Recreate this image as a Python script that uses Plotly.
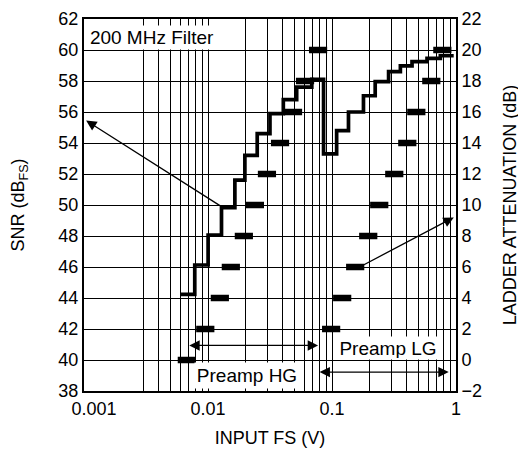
import math
import plotly.graph_objects as go

FONT = 'Liberation Sans, Arial, sans-serif'

# SNR step curve (left axis), HG then LG after the preamp switch
snr_x = [0.0060, 0.00782, 0.01002, 0.01285, 0.01647, 0.01983, 0.02494, 0.0316,
         0.0405, 0.0519, 0.0687, 0.0855, 0.109, 0.1358, 0.1794, 0.223, 0.286,
         0.356, 0.442, 0.584, 0.748, 0.958]
snr_db = [44.24, 46.13, 48.06, 49.83, 51.6, 53.2, 54.6, 55.9, 56.8, 57.6, 58.1,
          53.3, 54.8, 56.0, 57.05, 57.96, 58.6, 58.97, 59.25, 59.46, 59.63, 59.63]

# ladder attenuation settings (right axis)
hg_atten_x = [0.00675, 0.00951, 0.01246, 0.01528, 0.01946, 0.02389, 0.02988,
              0.0381, 0.0485, 0.0606, 0.0772]
hg_atten_db = [0, 2, 4, 6, 8, 10, 12, 14, 16, 18, 20]
lg_atten_x = [0.0984, 0.1208, 0.1538, 0.196, 0.2404, 0.3178, 0.4047, 0.4786,
              0.632, 0.776]
lg_atten_db = [2, 4, 6, 8, 10, 12, 14, 16, 18, 20]

# x grid (no line at 0.002 in the original)
x_grid_vals = [0.001, 0.003, 0.004, 0.005, 0.006, 0.007, 0.008, 0.009,
               0.01, 0.02, 0.03, 0.04, 0.05, 0.06, 0.07, 0.08, 0.09,
               0.1, 0.2, 0.3, 0.4, 0.5, 0.6, 0.7, 0.8, 0.9, 1]
x_grid_text = ['&nbsp;&nbsp;&nbsp;&nbsp;0.001' if v == 0.001 else '0.01' if v == 0.01 else
               '0.1' if v == 0.1 else '1' if v == 1 else '' for v in x_grid_vals]

# pointer arrows: (tail x, tail y) -> (tip x, tip y)
snr_arrow = [0.01283, 49.9, 0.00104, 55.45]
atten_arrow = [0.167, 6, 0.96, 9.2]
hg_range = [0.00687, 0.0772, 40.94]
lg_range = [0.0772, 0.873, 39.22]

fig = go.Figure()

fig.add_trace(go.Scatter(
    x=snr_x, y=snr_db, mode='lines', line_shape='hv',
    line={'color': 'black', 'width': 3.7}, yaxis='y'))

for xs, ys in [(hg_atten_x, hg_atten_db), (lg_atten_x, lg_atten_db)]:
    fig.add_trace(go.Scatter(
        x=xs, y=ys, mode='markers', yaxis='y2',
        marker={'symbol': 'line-ew', 'size': 13, 'color': 'black',
                'line': {'color': 'black', 'width': 6.5}}))

L = math.log10
arrow_style = dict(text='', showarrow=True, arrowhead=2, arrowsize=1.6,
                   arrowwidth=1.3, arrowcolor='black')
ann = []
ann.append(dict(x=L(snr_arrow[2]), y=snr_arrow[3], ax=L(snr_arrow[0]), ay=snr_arrow[1],
                xref='x', yref='y', axref='x', ayref='y', **arrow_style))
ann.append(dict(x=L(atten_arrow[2]), y=atten_arrow[3], ax=L(atten_arrow[0]), ay=atten_arrow[1],
                xref='x', yref='y2', axref='x', ayref='y2', **arrow_style))
for r in [hg_range, lg_range]:
    ann.append(dict(x=L(r[1]), y=r[2], ax=L(r[0]), ay=r[2],
                    xref='x', yref='y', axref='x', ayref='y',
                    arrowside='end+start', **arrow_style))

ann.append(dict(x=0.004, y=60, xref='paper', yref='y', xanchor='left', yanchor='bottom',
                text='200 MHz Filter', showarrow=False, bgcolor='white',
                width=128, height=19, borderpad=2, font={'size': 19}))
ann.append(dict(x=L(0.0206), y=38.1, xref='x', yref='y', yanchor='bottom',
                text='Preamp HG', showarrow=False, bgcolor='white',
                width=102, height=23, borderpad=1, font={'size': 19}))
ann.append(dict(x=L(0.284), y=40.75, xref='x', yref='y',
                text='Preamp LG', showarrow=False, bgcolor='white',
                width=98, height=20, borderpad=1, font={'size': 19}))

axis_common = dict(showline=True, linecolor='black', linewidth=2, ticks='',
                   zeroline=False, tickfont={'size': 18}, automargin=False)

# page body adds an 8px offset, so the figure is sized/positioned to compensate
fig.update_layout(
    width=518, height=441,
    margin=dict(l=76, r=70, t=11, b=58),
    paper_bgcolor='white', plot_bgcolor='white',
    font=dict(family=FONT, color='black', size=18),
    showlegend=False,
    xaxis=dict(type='log', range=[-3, 0], tickvals=x_grid_vals, ticktext=x_grid_text,
               showgrid=True, gridcolor='black', gridwidth=1.2, mirror=True,
               title=dict(text='INPUT FS (V)', font={'size': 18}, standoff=14),
               **axis_common),
    yaxis=dict(range=[38, 62], dtick=2, showgrid=True, gridcolor='black', gridwidth=1.2,
               mirror=True, title=dict(text='SNR (dB<sub>FS</sub>)', font={'size': 18}, standoff=29),
               **axis_common),
    yaxis2=dict(range=[-2, 22], dtick=2, overlaying='y', side='right', showgrid=False,
                title=dict(text='LADDER ATTENUATION (dB)', font={'size': 18}, standoff=22),
                **axis_common),
    annotations=ann,
)

fig.write_html('out.html')
